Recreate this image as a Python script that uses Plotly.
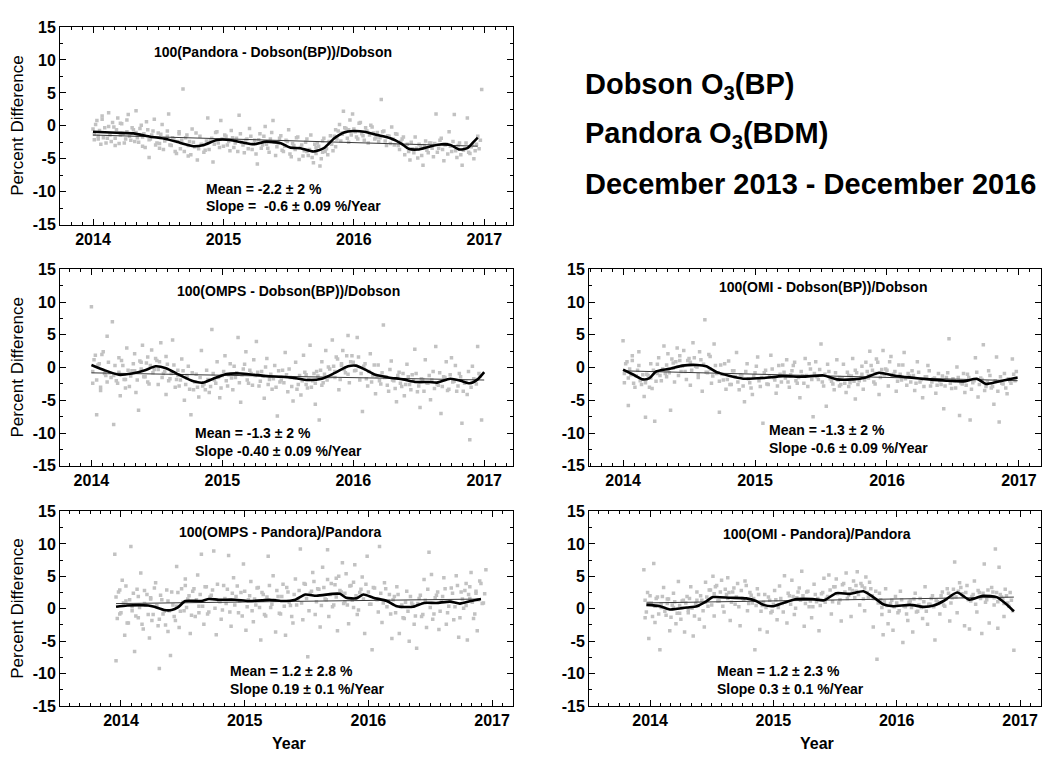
import plotly.graph_objects as go

# ---------------- DATA ----------------
year_ticks = [2014, 2015, 2016, 2017]
y_ticks = [-15, -10, -5, 0, 5, 10, 15]

# observation dates (fractional year), Dobson-matched comparisons (two observation sets)
x_dobson = [
    2014.00, 2014.01, 2014.03, 2014.04, 2014.06, 2014.07, 2014.09, 2014.11, 2014.12, 2014.14,
    2014.16, 2014.17, 2014.19, 2014.21, 2014.22, 2014.24, 2014.26, 2014.27, 2014.29, 2014.31,
    2014.33, 2014.34, 2014.36, 2014.38, 2014.39, 2014.41, 2014.43, 2014.44, 2014.46, 2014.48,
    2014.50, 2014.51, 2014.53, 2014.55, 2014.57, 2014.58, 2014.60, 2014.62, 2014.64, 2014.66,
    2014.67, 2014.69, 2014.71, 2014.73, 2014.74, 2014.76, 2014.78, 2014.80, 2014.82, 2014.84,
    2014.86, 2014.88, 2014.90, 2014.92, 2014.94, 2014.96, 2014.98, 2015.00, 2015.02, 2015.04,
    2015.06, 2015.08, 2015.10, 2015.12, 2015.14, 2015.16, 2015.18, 2015.20, 2015.22, 2015.24,
    2015.26, 2015.28, 2015.30, 2015.32, 2015.34, 2015.36, 2015.38, 2015.40, 2015.42, 2015.44,
    2015.46, 2015.48, 2015.50, 2015.52, 2015.54, 2015.56, 2015.58, 2015.60, 2015.62, 2015.64,
    2015.65, 2015.67, 2015.69, 2015.71, 2015.72, 2015.74, 2015.76, 2015.77, 2015.79, 2015.81,
    2015.82, 2015.84, 2015.86, 2015.87, 2015.89, 2015.91, 2015.92, 2015.94, 2015.96, 2015.97,
    2015.99, 2016.01, 2016.03, 2016.05, 2016.07, 2016.09, 2016.11, 2016.13, 2016.15, 2016.17,
    2016.19, 2016.21, 2016.23, 2016.25, 2016.27, 2016.29, 2016.31, 2016.33, 2016.35, 2016.37,
    2016.39, 2016.41, 2016.43, 2016.45, 2016.47, 2016.49, 2016.51, 2016.53, 2016.55, 2016.57,
    2016.59, 2016.61, 2016.63, 2016.65, 2016.67, 2016.69, 2016.71, 2016.73, 2016.75, 2016.77,
    2016.79, 2016.81, 2016.83, 2016.85, 2016.87, 2016.89, 2016.91, 2016.93, 2016.95, 2016.98,
]
x_dobson_b = [
    2014.01, 2014.02, 2014.04, 2014.05, 2014.07, 2014.08, 2014.10, 2014.12, 2014.13, 2014.15,
    2014.17, 2014.18, 2014.20, 2014.21, 2014.23, 2014.25, 2014.26, 2014.28, 2014.30, 2014.32,
    2014.33, 2014.35, 2014.37, 2014.38, 2014.40, 2014.42, 2014.43, 2014.45, 2014.47, 2014.49,
    2014.51, 2014.52, 2014.54, 2014.56, 2014.57, 2014.59, 2014.61, 2014.63, 2014.65, 2014.66,
    2014.68, 2014.70, 2014.72, 2014.73, 2014.75, 2014.77, 2014.79, 2014.81, 2014.83, 2014.85,
    2014.87, 2014.89, 2014.91, 2014.93, 2014.95, 2014.97, 2014.99, 2015.01, 2015.03, 2015.05,
    2015.07, 2015.09, 2015.11, 2015.13, 2015.15, 2015.17, 2015.19, 2015.21, 2015.23, 2015.25,
    2015.27, 2015.29, 2015.31, 2015.33, 2015.35, 2015.37, 2015.39, 2015.41, 2015.43, 2015.45,
    2015.47, 2015.49, 2015.51, 2015.53, 2015.55, 2015.57, 2015.59, 2015.61, 2015.63, 2015.64,
    2015.66, 2015.68, 2015.70, 2015.71, 2015.73, 2015.75, 2015.76, 2015.78, 2015.80, 2015.81,
    2015.83, 2015.85, 2015.86, 2015.88, 2015.90, 2015.91, 2015.93, 2015.95, 2015.96, 2015.98,
    2016.00, 2016.02, 2016.04, 2016.06, 2016.08, 2016.10, 2016.12, 2016.14, 2016.16, 2016.18,
    2016.20, 2016.22, 2016.24, 2016.26, 2016.28, 2016.30, 2016.32, 2016.34, 2016.36, 2016.38,
    2016.40, 2016.42, 2016.44, 2016.46, 2016.48, 2016.50, 2016.52, 2016.54, 2016.56, 2016.58,
    2016.60, 2016.62, 2016.64, 2016.66, 2016.68, 2016.70, 2016.72, 2016.74, 2016.76, 2016.78,
    2016.80, 2016.82, 2016.84, 2016.86, 2016.88, 2016.90, 2016.92, 2016.94, 2016.96, 2016.97,
]

# observation dates, Pandora-matched comparisons (two observation sets)
x_pandora = [
    2013.95, 2013.96, 2013.98, 2013.99, 2014.01, 2014.03, 2014.04, 2014.06, 2014.08, 2014.09,
    2014.11, 2014.13, 2014.14, 2014.16, 2014.18, 2014.19, 2014.21, 2014.23, 2014.24, 2014.26,
    2014.28, 2014.30, 2014.31, 2014.33, 2014.35, 2014.37, 2014.38, 2014.40, 2014.42, 2014.44,
    2014.45, 2014.47, 2014.49, 2014.51, 2014.52, 2014.54, 2014.56, 2014.58, 2014.60, 2014.62,
    2014.63, 2014.65, 2014.67, 2014.69, 2014.71, 2014.73, 2014.75, 2014.77, 2014.79, 2014.81,
    2014.83, 2014.85, 2014.87, 2014.89, 2014.91, 2014.93, 2014.95, 2014.97, 2014.99, 2015.01,
    2015.03, 2015.05, 2015.07, 2015.09, 2015.11, 2015.13, 2015.15, 2015.17, 2015.19, 2015.21,
    2015.23, 2015.25, 2015.27, 2015.29, 2015.31, 2015.33, 2015.35, 2015.37, 2015.39, 2015.41,
    2015.43, 2015.45, 2015.47, 2015.49, 2015.51, 2015.53, 2015.55, 2015.57, 2015.59, 2015.61,
    2015.63, 2015.65, 2015.67, 2015.68, 2015.70, 2015.72, 2015.74, 2015.75, 2015.77, 2015.79,
    2015.81, 2015.82, 2015.84, 2015.86, 2015.88, 2015.89, 2015.91, 2015.93, 2015.95, 2015.97,
    2015.99, 2016.01, 2016.03, 2016.05, 2016.07, 2016.09, 2016.11, 2016.13, 2016.15, 2016.17,
    2016.19, 2016.21, 2016.23, 2016.25, 2016.27, 2016.29, 2016.31, 2016.33, 2016.35, 2016.37,
    2016.39, 2016.41, 2016.43, 2016.45, 2016.47, 2016.49, 2016.51, 2016.53, 2016.55, 2016.57,
    2016.59, 2016.61, 2016.63, 2016.65, 2016.67, 2016.69, 2016.71, 2016.73, 2016.75, 2016.77,
    2016.79, 2016.80, 2016.82, 2016.83, 2016.85, 2016.87, 2016.88, 2016.90, 2016.92, 2016.95,
]
x_pandora_b = [
    2013.96, 2013.97, 2013.99, 2014.00, 2014.02, 2014.04, 2014.05, 2014.07, 2014.09, 2014.10,
    2014.12, 2014.14, 2014.15, 2014.17, 2014.19, 2014.20, 2014.22, 2014.24, 2014.25, 2014.27,
    2014.29, 2014.31, 2014.32, 2014.34, 2014.36, 2014.38, 2014.39, 2014.41, 2014.43, 2014.45,
    2014.46, 2014.48, 2014.50, 2014.52, 2014.53, 2014.55, 2014.57, 2014.59, 2014.61, 2014.63,
    2014.64, 2014.66, 2014.68, 2014.70, 2014.72, 2014.74, 2014.76, 2014.78, 2014.80, 2014.82,
    2014.84, 2014.86, 2014.88, 2014.90, 2014.92, 2014.94, 2014.96, 2014.98, 2015.00, 2015.02,
    2015.04, 2015.06, 2015.08, 2015.10, 2015.12, 2015.14, 2015.16, 2015.18, 2015.20, 2015.22,
    2015.24, 2015.26, 2015.28, 2015.30, 2015.32, 2015.34, 2015.36, 2015.38, 2015.40, 2015.42,
    2015.44, 2015.46, 2015.48, 2015.50, 2015.52, 2015.54, 2015.56, 2015.58, 2015.60, 2015.62,
    2015.64, 2015.66, 2015.67, 2015.69, 2015.71, 2015.73, 2015.74, 2015.76, 2015.78, 2015.80,
    2015.81, 2015.83, 2015.85, 2015.87, 2015.88, 2015.90, 2015.92, 2015.94, 2015.96, 2015.98,
    2016.00, 2016.02, 2016.04, 2016.06, 2016.08, 2016.10, 2016.12, 2016.14, 2016.16, 2016.18,
    2016.20, 2016.22, 2016.24, 2016.26, 2016.28, 2016.30, 2016.32, 2016.34, 2016.36, 2016.38,
    2016.40, 2016.42, 2016.44, 2016.46, 2016.48, 2016.50, 2016.52, 2016.54, 2016.56, 2016.58,
    2016.60, 2016.62, 2016.64, 2016.66, 2016.68, 2016.70, 2016.72, 2016.74, 2016.76, 2016.78,
    2016.79, 2016.81, 2016.82, 2016.84, 2016.86, 2016.87, 2016.89, 2016.91, 2016.93, 2016.94,
]

# 100(Pandora - Dobson(BP))/Dobson
pct_pandora_dobson = [
    -0.5, -2.1, 0.8, -1.6, -2.8, 1.5, -0.3, -1.9, 2.0, -2.4,
    -0.2, -3.0, 1.2, -1.4, 0.3, -2.6, -0.9, 1.7, -2.2, -0.6,
    2.3, -1.8, -0.4, -3.1, -1.2, 0.6, -4.8, -2.0, -0.8, -2.9,
    -1.1, -3.4, 0.2, -2.3, -1.6, 1.8, -3.0, -2.0, -4.2, -0.9,
    -3.5, 5.6, -1.8, -4.6, -2.4, -0.5, -3.2, -5.2, -1.6, -2.9,
    -3.7, 1.2, -2.2, -5.5, -1.0, -2.6, 0.8, -3.1, -1.6, -2.4,
    -0.7, -3.3, -1.9, 1.6, -2.5, -4.1, -2.0, -0.4, -3.6, -2.2,
    -5.8, -1.2, -2.9, -0.1, -3.4, -2.0, 0.8, -4.5, -2.6, -1.5,
    -3.9, -2.2, -0.6, -4.7, -3.0, -1.8, -5.1, -2.9, -3.8, -2.0,
    -4.5, -1.4, -5.6, -3.3, -2.6, -6.1, -4.0, -1.9, -3.5, -2.4,
    -1.5, -3.8, -0.6, -2.0, 0.2, -1.3, 2.2, -0.4, -2.5, 0.9,
    1.8, -0.9, -2.0, 0.5, -1.5, -0.3, -2.6, 0.1, -1.1, -1.8,
    -2.4, 4.0, -0.8, -3.0, -1.6, -0.2, -2.9, -1.3, -3.6, -2.0,
    -4.4, -2.8, -5.2, -3.5, -1.7, -4.9, -3.2, -6.0, -2.3, -4.1,
    -2.6, -4.7, 1.8, -3.4, -1.9, -5.3, -2.8, -0.9, -3.9, 1.7,
    -4.8, -2.6, -6.0, -3.5, 1.2, -4.2, -2.9, -3.8, -1.6, 5.5,
]
pct_pandora_dobson_b = [
    -1.3, 0.2, -2.0, -0.7, 1.0, -1.8, -2.6, -0.1, -1.4, 0.5,
    -1.9, -0.6, -2.7, 0.4, -1.2, -2.0, 0.9, -1.6, -0.3, -2.4,
    -1.0, -2.5, 0.1, -1.7, -3.3, -0.6, -2.1, -1.4, 1.0, -2.6,
    -2.7, -1.3, -3.6, -2.0, -0.8, -2.9, -1.8, -3.9, -2.4, -1.2,
    -2.2, -3.9, -1.4, -3.0, -4.4, -2.5, -1.1, -3.5, -2.8, -4.0,
    -2.3, -3.6, -1.9, -2.8, -0.9, -3.3, -2.0, -1.4, -2.9, -3.8,
    -1.8, -2.6, -3.9, -1.2, -2.9, -2.2, -3.5, -1.6, -2.7, -4.3,
    -2.1, -3.4, -1.6, -2.8, -4.0, -1.0, -2.5, -3.2, -1.9, -3.7,
    -3.1, -2.4, -4.3, -2.7, -3.6, -1.7, -3.3, -4.6, -2.5, -3.9,
    -3.6, -4.8, -2.8, -4.2, -3.1, -5.0, -2.3, -3.9, -4.4, -2.7,
    -2.8, -1.6, -3.2, -0.8, -2.3, -1.1, -0.3, -1.9, -0.6, -1.4,
    -0.5, -1.7, 0.4, -1.2, -2.2, -0.8, -1.4, -0.2, -2.0, -1.0,
    -1.8, -0.9, -2.3, -1.5, -2.7, -2.0, -1.2, -3.0, -2.4, -1.7,
    -3.1, -3.9, -2.5, -4.1, -3.4, -2.8, -4.5, -3.0, -3.7, -2.6,
    -3.4, -2.7, -4.0, -2.2, -3.6, -2.9, -4.3, -3.1, -2.4, -3.8,
    -3.0, -4.4, -3.7, -2.6, -4.0, -3.2, -5.0, -2.8, -3.5, -2.2,
]

# 100(OMPS - Dobson(BP))/Dobson
pct_omps_dobson = [
    9.3, -2.4, 1.9, -7.2, 0.6, -3.5, 2.4, -1.2, 4.8, -0.8,
    7.0, -8.7, -2.0, 1.5, -4.3, 0.3, -1.8, 3.0, -2.9, -0.5,
    2.1, -3.8, -6.5, 0.8, 3.4, -1.4, 1.6, -2.5, 2.7, -0.3,
    1.1, -2.6, 3.8, -0.9, -4.1, 0.5, -1.7, 4.2, -3.0, -0.4,
    -2.8, 1.3, -5.0, -1.6, 0.2, -7.2, -3.4, -1.0, -4.5, 2.6,
    -2.5, -0.4, -3.8, 5.8, -1.9, 0.9, -4.6, -1.2, 1.8, -2.8,
    0.6, -3.4, -1.5, 4.6, -5.3, -0.2, 2.4, -2.4, -0.9, 1.2,
    4.0, -2.8, -0.6, -4.7, 1.4, -1.8, -3.3, 0.3, -7.4, -2.2,
    -0.4, 2.3, -3.7, -1.5, -5.1, 0.8, -2.6, -4.2, 1.9, -1.1,
    -3.1, 3.4, -2.0, -5.6, -0.6, -8.0, 0.9, -2.3, 2.6, -1.4,
    -0.2, 4.2, -1.5, 1.6, -3.4, 0.3, 2.6, -0.8, 4.9, -2.3,
    1.8, -0.5, 4.6, -1.9, -6.7, 0.6, -2.8, 2.1, -1.2, -4.0,
    0.4, -2.5, 6.5, -1.4, -3.6, 1.0, -2.0, -5.2, -0.7, -2.9,
    -4.3, 0.5, -2.6, -1.1, 2.8, -3.7, -6.1, -1.8, 1.2, -2.4,
    -4.9, -0.6, 3.2, -2.7, -7.0, -1.4, 0.9, -3.3, 1.5, -2.1,
    -3.6, -0.9, -8.5, -2.4, -4.1, -11.0, 0.2, -1.8, 3.2, -8.0,
]
pct_omps_dobson_b = [
    -0.6, 1.2, -1.9, 0.4, -3.0, 2.0, -0.9, -2.2, 0.8, -1.5,
    -1.2, 0.3, -2.4, -0.7, 1.1, -1.8, -3.1, -0.4, -1.3, 0.6,
    -0.5, -1.9, 1.0, -0.2, -1.4, 0.7, -2.2, 0.3, -0.8, 1.4,
    -0.3, 0.9, -1.5, -0.6, 1.7, -2.0, -0.9, 0.4, -1.8, -1.2,
    -1.9, -0.5, -2.6, -1.2, -3.3, -0.8, -2.2, -3.0, -1.5, -2.8,
    -3.4, -1.8, -2.9, -0.9, -2.4, -1.5, -3.1, -0.6, -2.0, -1.1,
    -1.6, 0.2, -0.8, -2.3, -1.1, 0.5, -1.9, -0.4, -2.7, -1.2,
    -0.7, -2.1, -1.3, 0.1, -2.6, -1.0, -1.7, -3.0, -0.5, -1.9,
    -2.3, -1.1, -0.2, -2.9, -1.6, -3.3, -1.2, -2.0, -0.7, -2.6,
    -1.8, -3.0, -0.9, -2.4, -1.3, -0.4, -2.7, -1.0, -1.9, 0.1,
    -1.4, 0.2, -0.6, 1.3, -1.8, 0.6, -0.3, 1.8, -1.0, 0.9,
    0.8, -0.4, 1.6, -0.9, 0.2, -1.7, -0.6, -2.2, 0.4, -1.3,
    -2.0, -0.8, -1.5, -2.7, -0.3, -1.9, -3.2, -1.2, -2.4, -0.9,
    -2.6, -1.4, -3.4, -2.0, -0.9, -2.8, -1.7, -3.6, -2.3, -1.2,
    -1.9, -3.2, -2.5, -0.8, -2.9, -1.5, -3.5, -1.1, -2.2, 0.3,
    -2.8, -1.4, -3.6, -2.2, -0.6, -3.0, -1.7, -2.5, -0.9, -1.3,
]

# 100(OMI - Dobson(BP))/Dobson
pct_omi_dobson = [
    4.1, -2.3, 0.9, -5.8, -1.1, 1.8, -3.0, -0.4, 2.4, -2.6,
    -4.4, -7.6, -1.2, 0.6, -3.2, -8.2, -0.9, 1.5, -2.0, 3.3,
    -1.4, 2.1, -6.5, 0.7, -2.2, 3.0, 1.1, -0.6, 2.6, -1.8,
    1.4, -2.7, 3.8, 0.2, -1.5, 2.4, -3.6, 7.3, -0.8, 1.7,
    -2.4, 3.6, -0.9, -6.8, 0.4, -1.9, -3.3, 1.0, -2.6, -0.5,
    2.3, -3.4, -1.2, -5.2, 0.6, -2.3, -4.1, -0.8, 1.6, -2.9,
    -8.5, -0.4, -2.6, 1.9, -1.5, -3.9, 0.3, -2.2, -0.7, 1.2,
    -3.0, -0.5, 0.8, -2.4, -4.6, -1.3, 1.4, -2.9, -0.2, -7.5,
    0.9, -1.8, 3.6, -2.8, -5.9, -0.6, -2.1, -3.4, 1.2, -1.5,
    -2.6, 0.5, -3.8, -1.2, -2.3, 1.4, -4.8, -0.8, -2.0, 0.2,
    -3.3, 0.8, -1.6, 2.5, -0.4, -2.5, 1.3, -4.1, -0.9, 2.6,
    -0.2, -2.8, 1.7, -1.0, -3.6, 0.4, -1.9, 2.3, -2.7, -1.3,
    -0.5, -3.5, 0.9, -2.2, -4.6, -1.4, 0.3, -2.8, -1.7, -3.9,
    -0.9, -2.6, -6.3, -1.5, 4.4, -3.2, -2.0, 0.1, -7.3, -2.5,
    -3.8, -1.0, -8.0, -2.3, 1.5, -4.5, -1.6, 3.5, -2.9, -0.5,
    -3.1, -5.6, 1.6, -8.3, -2.4, -0.9, -4.0, -2.0, 1.3, -0.6,
]
pct_omi_dobson_b = [
    -0.9, 0.6, -1.6, -0.2, 1.1, -2.4, -1.3, 0.3, -2.0, -1.1,
    -2.3, -1.0, -3.0, -1.6, -0.4, -2.1, 0.5, -1.2, -0.2, -0.9,
    0.4, -0.8, 1.3, -0.1, 0.9, -1.2, 1.8, 0.2, -0.6, 1.1,
    0.8, -0.4, 1.5, 0.1, -1.0, 1.2, 0.5, -0.7, 2.0, -0.2,
    -1.3, 0.3, -0.8, -2.1, -1.0, 0.6, -1.8, -2.6, -0.5, -1.4,
    -2.2, -1.1, -2.8, -0.6, -1.7, -3.1, -1.3, 0.2, -2.0, -1.5,
    -0.8, -2.5, -1.4, -0.2, -1.9, -2.8, -1.0, 0.4, -1.6, -2.2,
    -1.1, 0.3, -2.0, -1.5, -0.6, -2.4, -1.2, 0.6, -1.8, -0.9,
    -1.4, -0.3, -2.2, -1.0, 0.5, -1.7, -2.5, -0.8, -1.9, -2.8,
    -1.6, -2.4, -0.7, -2.9, -1.3, -2.1, -0.4, -2.6, -1.5, -1.0,
    -1.9, -0.6, -1.2, 0.3, -2.2, -0.9, 0.8, -1.5, -0.3, -1.1,
    -0.4, 0.9, -1.3, -0.6, -2.1, -1.0, 0.4, -1.7, -0.9, -2.2,
    -1.2, -2.4, -0.7, -1.8, -2.9, -1.4, -0.5, -2.2, -1.6, -2.7,
    -2.0, -1.3, -2.8, -0.8, -2.4, -1.7, -3.1, -1.5, -2.3, -0.9,
    -2.7, -1.5, -3.3, -2.0, -0.7, -2.6, -1.8, -3.5, -2.2, -1.2,
    -2.9, -2.0, -3.6, -1.4, -2.5, -3.1, -1.7, -2.4, -1.0, -2.0,
]

# 100(OMPS - Pandora)/Pandora
pct_omps_pandora = [
    8.4, -8.0, 2.6, -0.8, 4.4, -4.1, 1.2, -2.2, 9.6, 0.3,
    -6.6, 3.0, -1.4, 5.5, -3.1, 0.8, 2.2, -4.5, 1.7, -0.9,
    4.0, -2.6, -9.2, 1.4, -0.4, 2.9, -3.5, -7.2, 0.6, -1.8,
    6.5, -2.9, 3.1, -0.3, 4.6, 1.5, -3.8, 2.7, -1.2, 5.2,
    0.4, 8.4, -2.4, 3.4, -0.5, 2.1, 8.9, -4.0, 1.2, -1.6,
    3.6, 0.8, 8.2, -2.7, 4.8, 1.9, -0.6, 2.5, 6.9, -3.3,
    1.4, 4.2, -2.0, 0.6, 3.3, -4.8, 2.2, -1.1, 8.1, 0.2,
    5.1, -3.6, 1.9, -0.8, 3.8, -4.1, 2.6, 0.5, -2.2, 4.6,
    1.3, 9.2, -1.7, 3.8, -7.4, 2.4, 5.6, -0.9, 3.1, -2.8,
    6.4, 1.5, 9.1, -1.2, 3.9, 0.6, 4.7, -3.4, 2.8, 7.1,
    1.1, 5.4, -2.3, 3.6, 0.2, 6.8, -0.9, 2.5, 4.9, -3.8,
    8.1, 0.7, -6.3, 3.2, 1.4, 9.6, -2.1, 4.0, 0.3, 2.2,
    -4.6, 1.9, 3.4, -3.8, 0.6, -1.5, 2.7, -5.0, 0.9, -2.4,
    -6.1, 1.6, -1.2, 4.5, -2.9, 8.7, 5.3, -0.8, 2.1, -3.2,
    1.2, 4.8, -2.4, 0.4, 3.2, -1.7, 5.1, -4.4, 2.6, 0.1,
    3.9, -4.8, 1.6, 5.6, -1.5, 2.4, -3.4, 4.3, 0.8, 6.0,
]
pct_omps_pandora_b = [
    1.8, -1.5, 2.9, -0.6, 0.9, 3.5, -2.2, 1.4, -0.3, 2.4,
    -1.1, 1.9, 0.2, -2.4, 2.8, 0.6, -0.9, 1.5, -1.8, 3.2,
    0.5, -1.6, 2.1, -0.8, -2.5, 1.2, -0.3, 2.6, -1.2, 0.4,
    2.5, -0.4, 1.0, 3.6, 0.2, 2.0, -1.0, 3.1, 1.4, -0.6,
    2.2, 0.4, 3.4, -0.8, 1.8, 2.9, 0.1, 3.8, 1.1, -0.2,
    1.6, 3.0, -0.5, 2.4, 0.6, 3.5, 1.2, -1.1, 2.7, 0.3,
    2.0, -0.3, 1.5, 3.2, 0.2, 2.5, -0.9, 1.8, 3.6, 0.7,
    1.3, 2.8, -0.7, 1.9, 0.4, 3.3, 1.0, -1.2, 2.2, 0.6,
    2.8, 0.9, 3.9, 1.6, -0.3, 2.7, 4.2, 1.1, 3.0, 0.5,
    3.3, 1.4, 4.5, 2.2, 0.3, 3.7, 1.8, 5.0, 2.6, 0.8,
    2.4, 0.6, 3.5, 1.3, 4.1, 2.0, -0.2, 3.0, 1.5, 3.8,
    2.6, 0.7, 3.3, 1.5, -0.5, 2.4, 0.9, 3.1, 1.2, -0.8,
    1.4, -0.6, 2.2, 0.3, -1.4, 1.0, -0.4, 1.9, 0.6, -1.1,
    0.8, 2.1, -0.9, 1.3, 3.0, 0.2, -1.6, 1.7, 2.6, -0.4,
    1.9, 3.1, -0.6, 1.2, 2.4, 0.3, 3.6, -1.4, 1.5, 2.8,
    0.5, 2.2, 3.4, 1.0, -0.8, 2.7, 1.4, 3.9, 0.9, 2.3,
]

# 100(OMI - Pandora)/Pandora
pct_omi_pandora = [
    6.0, -1.4, 2.5, -4.6, 0.9, 7.0, -2.1, 1.8, -6.3, 0.2,
    3.3, -1.0, 1.5, -3.4, 0.6, 2.4, -2.3, 4.2, -0.7, 1.2,
    -3.6, 1.9, -0.2, 3.4, -4.2, 0.8, 2.6, -1.6, 1.3, -2.8,
    4.1, 0.4, 2.9, 5.0, -1.1, 3.6, 1.2, 4.4, -0.5, 2.2,
    4.8, -1.8, 2.6, 0.7, 3.9, -2.6, 1.6, 4.3, -0.3, 2.5,
    0.9, -6.3, 3.1, -3.2, 0.5, 2.2, -3.6, 1.3, -0.4, 2.8,
    -1.7, 3.5, 0.8, 5.1, -2.2, 2.0, 4.4, -0.9, 1.7, 3.2,
    5.8, -2.7, 2.6, 0.3, -1.4, 3.8, 1.1, -3.4, 2.3, 4.7,
    1.6, 5.2, -0.8, 3.4, 4.6, 0.9, -1.9, 3.9, 5.5, 2.1,
    -1.2, 4.3, 2.7, 5.7, 0.6, 3.5, -0.3, 4.9, 1.8, 3.1,
    -2.8, 1.6, -7.8, 2.4, -0.9, -4.0, 3.1, -2.3, 0.8, -3.3,
    1.9, -0.6, 2.7, -5.2, 0.3, -1.8, 1.2, -3.6, 2.4, -0.4,
    1.6, -1.5, 3.4, -2.4, 0.7, 2.0, -4.8, 1.1, -0.8, 2.6,
    0.4, 3.1, -1.9, 1.7, 7.2, -0.6, 4.0, 2.3, -2.6, 3.6,
    -3.1, 1.9, 4.3, -0.5, 2.5, -3.8, 6.9, 1.4, -2.2, 3.3,
    0.6, 9.2, -3.0, 6.4, 1.8, -1.2, 3.0, 0.9, 2.5, -6.4,
]
pct_omi_pandora_b = [
    1.3, -0.5, 0.9, 2.0, -1.2, 0.4, 1.6, -0.8, 0.7, 1.9,
    -0.4, 0.8, 1.5, -1.3, 0.2, 1.1, -0.7, 0.5, -1.6, 1.3,
    0.9, -0.6, 1.6, 0.1, -1.1, 1.3, 0.5, 2.0, -0.3, 1.0,
    1.8, 2.9, 0.6, 2.3, 3.4, 1.2, 2.6, 0.4, 3.0, 1.6,
    2.5, 1.0, 3.2, 1.8, 0.3, 2.8, 1.4, 3.6, 0.8, 2.1,
    1.6, 0.5, 2.2, -0.4, 1.0, 0.2, 1.8, -0.6, 0.7, 1.4,
    0.2, 1.6, -0.5, 1.1, 2.4, 0.7, 1.9, 0.1, 2.6, 1.3,
    2.0, 0.8, 2.7, 1.2, 0.3, 2.2, 1.6, 0.5, 2.5, 1.0,
    1.9, 2.9, 1.1, 3.4, 2.3, 1.4, 3.7, 2.6, 1.6, 3.1,
    2.8, 1.7, 3.6, 2.2, 3.9, 1.5, 3.2, 2.5, 4.1, 2.0,
    1.6, 2.7, 0.9, 1.4, 0.2, 1.1, 0.5, -0.4, 1.3, 0.3,
    0.9, -0.3, 1.4, 0.4, -0.8, 1.0, 0.2, 1.5, -0.5, 0.6,
    0.2, 1.1, -0.4, 0.7, 1.6, 0.3, 1.3, 0.8, 2.0, 0.6,
    1.5, 2.4, 0.9, 3.0, 1.8, 2.7, 3.3, 1.9, 2.5, 1.4,
    1.2, 2.2, 0.7, 2.8, 1.6, 2.4, 1.0, 2.9, 1.9, 2.6,
    1.7, 2.5, 1.1, 2.2, 1.5, 0.8, 2.0, 0.4, 1.3, -0.3,
]

# smoothed running means
smooth_pandora_dobson_x = [2014.00, 2014.18, 2014.31, 2014.44, 2014.56, 2014.67, 2014.77, 2014.85, 2014.95,
                           2015.05, 2015.15, 2015.23, 2015.33, 2015.44, 2015.51, 2015.59, 2015.69, 2015.77,
                           2015.85, 2015.92, 2016.00, 2016.08, 2016.18, 2016.28, 2016.36, 2016.42, 2016.49,
                           2016.59, 2016.67, 2016.74, 2016.81, 2016.87, 2016.92, 2016.95]
smooth_pandora_dobson_y = [-0.9, -1.05, -1.15, -1.65, -2.0, -2.6, -3.1, -2.9, -2.15,
                           -2.15, -2.55, -2.8, -2.4, -2.65, -3.3, -3.4, -3.9, -3.4,
                           -1.9, -1.05, -0.8, -0.9, -1.4, -1.9, -2.65, -3.5, -3.6,
                           -3.1, -2.8, -2.9, -3.6, -3.4, -2.4, -1.8]

smooth_omps_dobson_x = [2014.00, 2014.10, 2014.21, 2014.31, 2014.41, 2014.49, 2014.57, 2014.67, 2014.78,
                        2014.85, 2014.93, 2015.03, 2015.14, 2015.24, 2015.34, 2015.45, 2015.55, 2015.65,
                        2015.76, 2015.86, 2015.96, 2016.02, 2016.09, 2016.17, 2016.27, 2016.38, 2016.48,
                        2016.58, 2016.64, 2016.74, 2016.82, 2016.89, 2016.95, 2017.00]
smooth_omps_dobson_y = [0.4, -0.4, -1.1, -0.9, -0.4, 0.2, -0.1, -1.1, -2.1,
                        -2.3, -1.7, -1.0, -0.9, -1.1, -1.3, -1.4, -1.6, -1.9,
                        -1.7, -0.8, 0.2, 0.3, -0.3, -1.1, -1.5, -1.8, -2.2,
                        -2.2, -2.3, -1.7, -2.0, -2.4, -1.8, -0.7]

smooth_omi_dobson_x = [2014.00, 2014.08, 2014.15, 2014.20, 2014.25, 2014.35, 2014.45, 2014.56, 2014.63,
                       2014.71, 2014.81, 2014.91, 2015.06, 2015.21, 2015.36, 2015.52, 2015.62, 2015.74,
                       2015.84, 2015.94, 2016.05, 2016.17, 2016.32, 2016.45, 2016.58, 2016.68, 2016.75,
                       2016.83, 2016.90, 2016.99]
smooth_omi_dobson_y = [-0.3, -1.1, -1.8, -1.6, -0.6, -0.2, 0.3, 0.4, 0.2,
                       -0.7, -1.3, -1.7, -1.6, -1.3, -1.4, -1.2, -1.8, -1.8,
                       -1.5, -0.8, -1.2, -1.5, -1.8, -2.0, -2.1, -1.7, -2.5,
                       -2.2, -1.9, -1.5]

smooth_omps_pandora_x = [2013.96, 2014.05, 2014.22, 2014.27, 2014.35, 2014.41, 2014.46, 2014.52, 2014.65,
                         2014.71, 2014.79, 2014.92, 2015.03, 2015.14, 2015.20, 2015.30, 2015.41, 2015.49,
                         2015.58, 2015.71, 2015.77, 2015.82, 2015.90, 2015.96, 2016.04, 2016.15, 2016.23,
                         2016.36, 2016.45, 2016.55, 2016.66, 2016.74, 2016.83, 2016.91]
smooth_omps_pandora_y = [0.3, 0.5, 0.5, 0.3, -0.2, -0.2, 0.2, 1.2, 1.2,
                         1.5, 1.4, 1.4, 1.2, 1.3, 1.4, 1.2, 1.4, 2.2,
                         2.0, 2.3, 2.3, 1.7, 1.6, 2.2, 1.7, 1.2, 0.4,
                         0.3, 0.9, 0.9, 1.1, 0.8, 1.2, 1.5]

smooth_omi_pandora_x = [2013.97, 2014.08, 2014.16, 2014.22, 2014.30, 2014.38, 2014.46, 2014.51, 2014.65,
                        2014.78, 2014.86, 2014.92, 2015.00, 2015.08, 2015.19, 2015.32, 2015.41, 2015.51,
                        2015.62, 2015.73, 2015.81, 2015.89, 2015.97, 2016.11, 2016.22, 2016.30, 2016.38,
                        2016.49, 2016.59, 2016.70, 2016.81, 2016.89, 2016.95]
smooth_omi_pandora_y = [0.6, 0.4, -0.1, 0.0, 0.2, 0.4, 1.2, 1.8, 1.7,
                        1.6, 1.2, 0.6, 0.4, 0.9, 1.5, 1.5, 1.3, 2.4,
                        2.3, 2.7, 1.8, 0.7, 0.4, 0.6, 0.3, 0.5, 1.2,
                        2.5, 1.4, 2.0, 1.8, 0.7, -0.4]

# linear trends (end points)
trend_pandora_dobson_x = [2014.00, 2016.95]
trend_pandora_dobson_y = [-1.4, -3.1]
trend_omps_dobson_x = [2014.00, 2017.00]
trend_omps_dobson_y = [-0.8, -1.9]
trend_omi_dobson_x = [2014.00, 2016.99]
trend_omi_dobson_y = [-0.5, -2.0]
trend_omps_pandora_x = [2013.96, 2016.91]
trend_omps_pandora_y = [0.8, 1.5]
trend_omi_pandora_x = [2013.97, 2016.95]
trend_omi_pandora_y = [0.9, 1.8]

titles = ["100(Pandora - Dobson(BP))/Dobson", "100(OMPS - Dobson(BP))/Dobson",
          "100(OMI - Dobson(BP))/Dobson", "100(OMPS - Pandora)/Pandora",
          "100(OMI - Pandora)/Pandora"]
mean_texts = ["Mean = -2.2 ± 2 %", "Mean = -1.3 ± 2 %", "Mean = -1.3 ± 2 %",
              "Mean = 1.2 ± 2.8 %", "Mean = 1.2 ± 2.3 %"]
slope_texts = ["Slope =  -0.6 ± 0.09 %/Year", "Slope -0.40 ± 0.09 %/Year",
               "Slope -0.6 ± 0.09 %/Year", "Slope 0.19 ± 0.1 %/Year",
               "Slope 0.3 ± 0.1 %/Year"]
header_lines = ["Dobson O<sub>3</sub>(BP)", "Pandora O<sub>3</sub>(BDM)",
                "December 2013 - December 2016"]

# ---------------- LAYOUT ----------------
W, H = 1043, 761
FONT = "Liberation Sans, Arial, sans-serif"


def fx(p):
    return p / W


def fy(p):
    return 1 - p / H


panels = [
    dict(x=[x_dobson, x_dobson_b], y=[pct_pandora_dobson, pct_pandora_dobson_b],
         sx=smooth_pandora_dobson_x, sy=smooth_pandora_dobson_y,
         tx=trend_pandora_dobson_x, ty=trend_pandora_dobson_y,
         px=(60, 513), py=(19.5, 221.5), xr=(2013.747, 2017.22), ylab=True, xlab=False,
         title_pos=(273, 45), mean_pos=(204, 185), slope_pos=(204, 203)),
    dict(x=[x_dobson, x_dobson_b], y=[pct_omps_dobson, pct_omps_dobson_b],
         sx=smooth_omps_dobson_x, sy=smooth_omps_dobson_y,
         tx=trend_omps_dobson_x, ty=trend_omps_dobson_y,
         px=(60, 513), py=(267.3, 468.3), xr=(2013.76, 2017.22), ylab=True, xlab=False,
         title_pos=(288, 289), mean_pos=(193, 435), slope_pos=(193, 453)),
    dict(x=[x_dobson, x_dobson_b], y=[pct_omi_dobson, pct_omi_dobson_b],
         sx=smooth_omi_dobson_x, sy=smooth_omi_dobson_y,
         tx=trend_omi_dobson_x, ty=trend_omi_dobson_y,
         px=(589, 1041), py=(267.3, 468.3), xr=(2013.742, 2017.167), ylab=False, xlab=False,
         title_pos=(823, 285), mean_pos=(767, 432), slope_pos=(767, 450)),
    dict(x=[x_pandora, x_pandora_b], y=[pct_omps_pandora, pct_omps_pandora_b],
         sx=smooth_omps_pandora_x, sy=smooth_omps_pandora_y,
         tx=trend_omps_pandora_x, ty=trend_omps_pandora_y,
         px=(60, 513), py=(515, 714), xr=(2013.507, 2017.169), ylab=True, xlab=True,
         title_pos=(280, 536), mean_pos=(228, 678), slope_pos=(228, 697)),
    dict(x=[x_pandora, x_pandora_b], y=[pct_omi_pandora, pct_omi_pandora_b],
         sx=smooth_omi_pandora_x, sy=smooth_omi_pandora_y,
         tx=trend_omi_pandora_x, ty=trend_omi_pandora_y,
         px=(589, 1041), py=(515, 714), xr=(2013.505, 2017.17), ylab=False, xlab=True,
         title_pos=(817, 538), mean_pos=(715, 678), slope_pos=(715, 697)),
]

fig = go.Figure()
layout = {}
annotations = []
tickfont = dict(family=FONT, size=16, color="black", weight="bold")

for i, p in enumerate(panels, start=1):
    sfx = "" if i == 1 else str(i)
    xa, ya = "x" + sfx, "y" + sfx
    for xs, ys in zip(p["x"], p["y"]):
        fig.add_trace(go.Scatter(x=xs, y=ys, mode="markers", xaxis=xa, yaxis=ya,
                                 marker=dict(symbol="square", size=3.5, color="#c2c2c2", line=dict(width=0)),
                                 showlegend=False, hoverinfo="skip"))
    fig.add_trace(go.Scatter(x=p["tx"], y=p["ty"], mode="lines", xaxis=xa, yaxis=ya,
                             line=dict(color="#3a3a3a", width=1), showlegend=False))
    fig.add_trace(go.Scatter(x=p["sx"], y=p["sy"], mode="lines", xaxis=xa, yaxis=ya,
                             line=dict(color="black", width=2.6, shape="spline", smoothing=0.6),
                             showlegend=False))
    common = dict(showline=True, linecolor="black", linewidth=1, mirror="allticks",
                  ticks="inside", ticklen=6, tickwidth=1, tickcolor="black",
                  showgrid=False, zeroline=False, tickfont=tickfont)
    layout["xaxis" + sfx] = dict(common, domain=[fx(p["px"][0]), fx(p["px"][1])],
                                 range=list(p["xr"]), anchor=ya, tickmode="array",
                                 tickvals=year_ticks, ticktext=[str(t) for t in year_ticks],
                                 minor=dict(tick0=2014, dtick=1 / 12, ticks="inside", ticklen=3,
                                            tickcolor="black", tickwidth=1))
    layout["yaxis" + sfx] = dict(common, domain=[fy(p["py"][1]), fy(p["py"][0])],
                                 range=[-15, 15], anchor=xa, tickmode="array",
                                 tickvals=y_ticks, ticktext=[str(t) for t in y_ticks],
                                 minor=dict(tick0=0, dtick=2.5, ticks="inside", ticklen=3,
                                            tickcolor="black", tickwidth=1))
    k = i - 1
    annotations.append(dict(text="<b>%s</b>" % titles[k], x=fx(p["title_pos"][0]), y=fy(p["title_pos"][1]),
                            xref="paper", yref="paper", showarrow=False, xanchor="center", yanchor="middle",
                            font=dict(family=FONT, size=14, color="black")))
    annotations.append(dict(text="<b>%s</b>" % mean_texts[k], x=fx(p["mean_pos"][0]), y=fy(p["mean_pos"][1]),
                            xref="paper", yref="paper", showarrow=False, xanchor="left", yanchor="middle",
                            font=dict(family=FONT, size=14, color="black")))
    annotations.append(dict(text="<b>%s</b>" % slope_texts[k], x=fx(p["slope_pos"][0]), y=fy(p["slope_pos"][1]),
                            xref="paper", yref="paper", showarrow=False, xanchor="left", yanchor="middle",
                            font=dict(family=FONT, size=14, color="black")))
    if p["ylab"]:
        annotations.append(dict(text="Percent Difference", x=fx(18), y=fy((p["py"][0] + p["py"][1]) / 2),
                                xref="paper", yref="paper", showarrow=False, textangle=-90,
                                xanchor="center", yanchor="middle",
                                font=dict(family=FONT, size=17, color="black")))
    if p["xlab"]:
        annotations.append(dict(text="<b>Year</b>", x=fx((p["px"][0] + p["px"][1]) / 2 + 2), y=fy(752),
                                xref="paper", yref="paper", showarrow=False,
                                xanchor="center", yanchor="middle",
                                font=dict(family=FONT, size=16, color="black")))

for line, ypix in zip(header_lines, [80, 130, 180]):
    annotations.append(dict(text="<b>%s</b>" % line, x=fx(583), y=fy(ypix), xref="paper", yref="paper",
                            showarrow=False, xanchor="left", yanchor="middle",
                            font=dict(family=FONT, size=29, color="black")))

fig.update_layout(width=W, height=H, margin=dict(l=0, r=0, t=0, b=0),
                  paper_bgcolor="white", plot_bgcolor="white", showlegend=False,
                  annotations=annotations, **layout)

fig.write_html("out.html")
